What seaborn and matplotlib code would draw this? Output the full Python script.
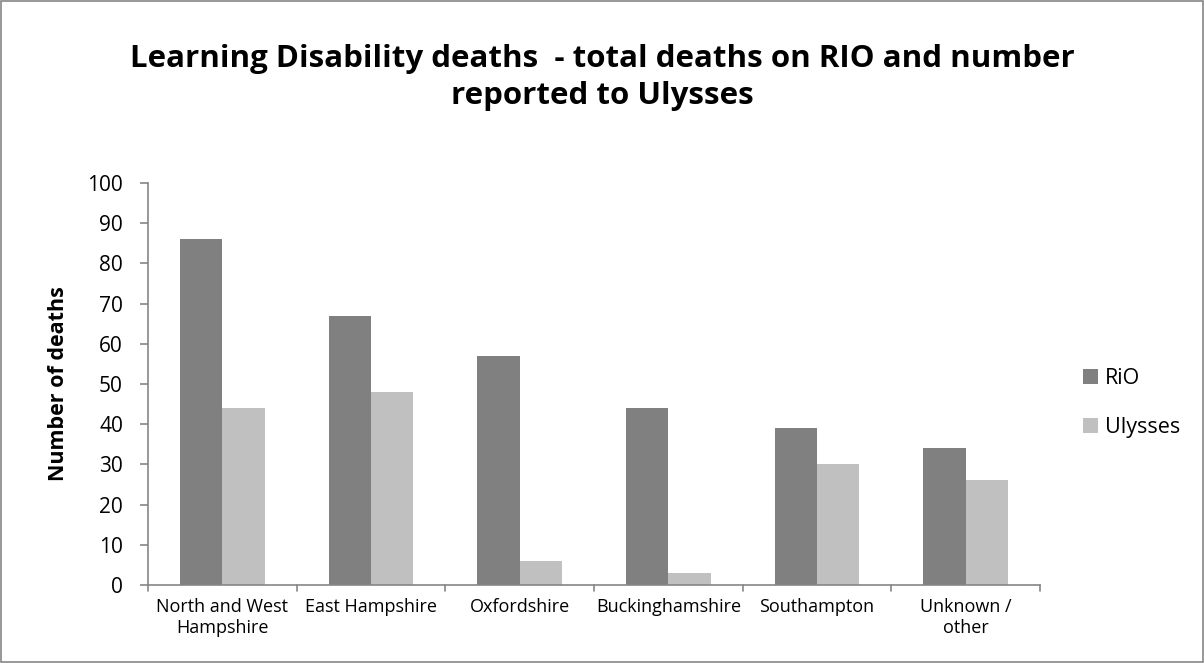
import matplotlib
matplotlib.use("Agg")
import matplotlib.pyplot as plt
import seaborn as sns
import pandas as pd

categories = ["North and West\nHampshire", "East Hampshire", "Oxfordshire",
              "Buckinghamshire", "Southampton", "Unknown /\nother"]
rio = [86, 67, 57, 44, 39, 34]
ulysses = [44, 48, 6, 3, 30, 26]
series = ["RiO", "Ulysses"]
yticks = list(range(0, 101, 10))

df = pd.DataFrame({
    "Area": categories * 2,
    "Deaths": rio + ulysses,
    "Series": [series[0]] * len(categories) + [series[1]] * len(categories),
})

sns.set_style("white")
plt.rcParams["font.family"] = ["Open Sans", "DejaVu Sans"]
plt.rcParams["text.color"] = "black"
plt.rcParams["xtick.color"] = "black"
plt.rcParams["ytick.color"] = "black"
plt.rcParams["axes.labelcolor"] = "black"

fig = plt.figure(figsize=(12.04, 6.63), dpi=100)
ax = fig.add_axes([148/1204, 1 - 585/663, (1040-148)/1204, (585-183)/663])

sns.barplot(data=df, x="Area", y="Deaths", hue="Series", ax=ax,
            palette=["#808080", "#c0c0c0"], width=0.57, saturation=1,
            edgecolor="none", linewidth=0)

ax.set_ylim(0, 100)
ax.set_yticks(yticks)
ax.set_yticklabels([str(t) for t in yticks], fontsize=15)
ax.set_xlim(-0.5, len(categories) - 0.5)
ax.set_xlabel("")
ax.set_ylabel("Number of deaths", fontsize=15.5, fontweight="bold", va="center")
ax.yaxis.set_label_coords(-0.1, 0.5)
ax.tick_params(axis="x", labelsize=13, length=0, pad=9)
ax.tick_params(axis="y", length=6, color="#868686", direction="out", left=True,
               pad=12, width=1.2)
for lab in ax.get_xticklabels():
    lab.set_linespacing(1.25)
for s in ["top", "right"]:
    ax.spines[s].set_visible(False)
for s in ["left", "bottom"]:
    ax.spines[s].set_color("#868686")
    ax.spines[s].set_linewidth(1.2)

# category divider ticks on x axis
for i in range(len(categories) + 1):
    ax.plot([i - 0.5, i - 0.5], [0, -1.5], color="#868686", lw=1.2, clip_on=False)

leg = ax.legend(loc="center left", bbox_to_anchor=(1.026, 0.452), frameon=False,
                fontsize=15.5, handlelength=0.7, handleheight=0.7, labelspacing=1.3,
                handletextpad=0.35)

fig.suptitle("Learning Disability deaths  - total deaths on RIO and number\nreported to Ulysses",
             fontsize=22.5, fontweight="bold", y=1 - 44/663, va="top", linespacing=1.32)

border = plt.Rectangle((0.001, 0.001), 0.998, 0.997, transform=fig.transFigure,
                       fill=False, edgecolor="#868686", lw=1.2)
fig.patches.append(border)

fig.savefig("out.png", dpi=100)
